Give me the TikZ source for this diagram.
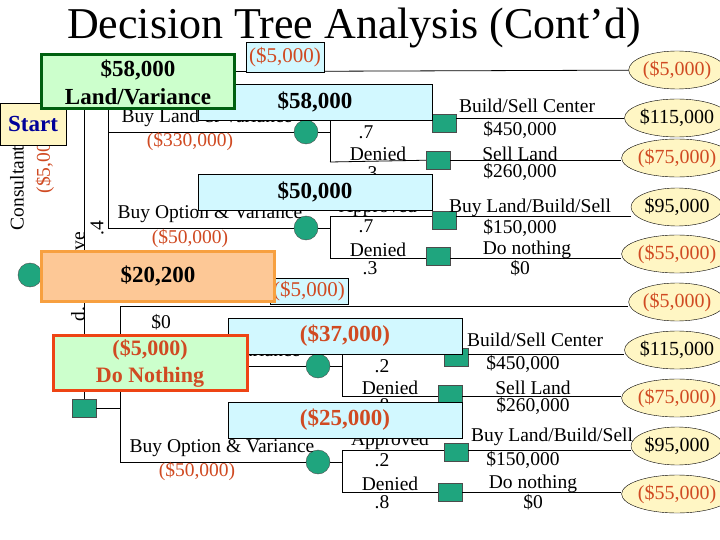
\documentclass[tikz,border=0pt]{standalone}
\usepackage{fontspec}
\setmainfont{Liberation Serif}
\usetikzlibrary{shapes.geometric}
\begin{document}
\begin{tikzpicture}[x=1pt,y=-1pt,
  lbl/.style={inner sep=0pt,font=\fontsize{19.5}{21}\selectfont},
  rlbl/.style={lbl,text=redc},
  dec/.style={draw=black!70,fill=teal1,minimum width=24pt,minimum height=18pt,inner sep=0pt},
  chance/.style={circle,draw=black!70,fill=teal1,minimum size=24pt,inner sep=0pt},
  pay/.style={ellipse,draw,fill=yel,minimum width=82pt,minimum height=38pt,inner sep=0pt,font=\fontsize{20}{22}\selectfont},
  cyanbox/.style={draw,fill=cyanc,inner sep=0pt,font=\fontsize{23}{26}\bfseries\selectfont},
  ln/.style={draw,line width=0.8pt}]
\definecolor{redc}{HTML}{D04A22}
\definecolor{teal1}{HTML}{1FA57E}
\definecolor{yel}{HTML}{FFF6C4}
\definecolor{cyanc}{HTML}{D2F8FF}
\definecolor{grn}{HTML}{CCFFCC}
\definecolor{dgrn}{HTML}{006010}
\definecolor{peach}{HTML}{FDC896}
\definecolor{orng}{HTML}{F7A040}
\definecolor{rbord}{HTML}{EE4414}
\useasboundingbox (0,0) rectangle (720,540);
\fill[white] (0,0) rectangle (720,540);
\node[font=\fontsize{44}{48}\selectfont] (title) at (354,28) {Decision Tree Analysis (Cont'd)};

% root
\node[chance] (root) at (30,275) {};
\node[dec] (dA) at (84,89) {};
\node[dec] (dD) at (84,408) {};
\coordinate (rj) at (84,275);
\draw[ln] (root) -- (rj) -- (dA);
\draw[ln] (rj) -- (dD);
\node[rotate=90,lbl] (cons) at (17,188) {Consultant};
\node[rotate=90,rlbl] (ccost) at (45,160) {(\$5,000)};
\node[rotate=90,lbl,anchor=east] (appr) at (80,232) {d. Approve};
\node[rotate=90,lbl] (p4) at (97,228) {.4};
\node[rotate=90,lbl,anchor=east] (deny) at (80,345) {Deny};

% ---- top tree
\coordinate (tj) at (108,89);
\coordinate (t1) at (108,72);
\coordinate (t2) at (108,132);
\coordinate (t3) at (108,228);
\draw[ln] (dA) -- (tj);
\draw[ln] (t1) -- (t3);
\node[pay,text=redc] (e1) at (677,70) {(\$5,000)};
\draw[ln] (t1) -- (e1);
\node[chance] (c1) at (306,132) {};
\node[chance] (c2) at (306,228) {};
\draw[ln] (t2) -- (c1);
\draw[ln] (t3) -- (c2);
\node[lbl] (bl1) at (207,118) {Buy Land \& Variance};
\node[rlbl] (bl1c) at (190,142) {(\$330,000)};
\node[lbl] (bo1) at (210,214) {Buy Option \& Variance};
\node[rlbl] (bo1c) at (190,239) {(\$50,000)};
% chance 1
\coordinate (c1a) at (330,120);\coordinate (c1b) at (330,162);
\draw[ln] (c1) -- (330,132);
\draw[ln] (c1a) -- (c1b);
\node[dec] (s1) at (444,123) {};
\node[dec] (s2) at (438,160) {};
\draw[ln] (c1a) -- (s1.west|-c1a);
\draw[ln] (c1b) -- (s2);
\node[lbl] (a1) at (378,108) {Approved};
\node[lbl] (p1) at (366,132) {.7};
\node[lbl] (dn1) at (378,154) {Denied};
\node[lbl] (p2) at (370,173) {.3};
\node[pay] (e2) at (677,118) {\$115,000};
\node[pay,text=redc] (e3) at (677,158) {(\$75,000)};
\draw[ln] (s1.east|-e2) -- (e2);
\draw[ln] (s2) -- (e3.west|-s2);
\node[lbl] (bs1) at (527,106) {Build/Sell Center};
\node[lbl] (v1) at (520,130) {\$450,000};
\node[lbl] (sl1) at (520,154) {Sell Land};
\node[lbl] (v2) at (520,172) {\$260,000};
% chance 2
\coordinate (c2a) at (330,216);\coordinate (c2b) at (330,258);
\draw[ln] (c2) -- (330,228);
\draw[ln] (c2a) -- (c2b);
\node[dec] (s3) at (444,220) {};
\node[dec] (s4) at (438,256) {};
\draw[ln] (c2a) -- (s3.west|-c2a);
\draw[ln] (c2b) -- (s4.west|-c2b);
\node[lbl] (a2) at (378,208) {Approved};
\node[lbl] (p3) at (366,226) {.7};
\node[lbl] (dn2) at (378,250) {Denied};
\node[lbl] (p5) at (370,268) {.3};
\node[pay] (e4) at (677,207) {\$95,000};
\node[pay,text=redc] (e5) at (677,254) {(\$55,000)};
\draw[ln] (s3.east|-c2a) -- (e4.west|-c2a);
\draw[ln] (s4.east|-c2b) -- (e5.west|-c2b);
\node[lbl] (bs2) at (530,208) {Buy Land/Build/Sell};
\node[lbl] (v3) at (520,228) {\$150,000};
\node[lbl] (dn3) at (527,250) {Do nothing};
\node[lbl] (v4) at (520,268) {\$0};

% ---- bottom tree
\coordinate (bj) at (120,408);
\coordinate (b1) at (120,306);
\coordinate (b2) at (120,366);
\coordinate (b3) at (120,462);
\draw[ln] (dD) -- (bj);
\draw[ln] (b1) -- (b3);
\node[pay,text=redc] (e6) at (677,302) {(\$5,000)};
\draw[ln] (b1) -- (e6.west|-b1);
\node[lbl] (z1) at (161,322) {\$0};
\node[chance] (c3) at (318,366) {};
\node[chance] (c4) at (318,462) {};
\draw[ln] (b2) -- (c3);
\draw[ln] (b3) -- (c4);
\node[lbl] (bl2) at (215,352) {Buy Land \& Variance};
\node[lbl] (bo2) at (222,448) {Buy Option \& Variance};
\node[rlbl] (bo2c) at (197,472) {(\$50,000)};
% chance 3
\coordinate (c3a) at (342,354);\coordinate (c3b) at (342,396);
\draw[ln] (c3) -- (342,366);
\draw[ln] (c3a) -- (c3b);
\node[dec] (s5) at (456,357) {};
\node[dec] (s6) at (450,394) {};
\draw[ln] (c3a) -- (s5.west|-c3a);
\draw[ln] (c3b) -- (s6.west|-c3b);
\node[lbl] (a3) at (390,342) {Approved};
\node[lbl] (p6) at (382,366) {.2};
\node[lbl] (dn4) at (390,388) {Denied};
\node[lbl] (p7) at (382,405) {.8};
\node[pay] (e7) at (677,350) {\$115,000};
\node[pay,text=redc] (e8) at (677,398) {(\$75,000)};
\draw[ln] (s5.east|-c3a) -- (e7.west|-c3a);
\draw[ln] (s6.east|-c3b) -- (e8.west|-c3b);
\node[lbl] (bs3) at (535,340) {Build/Sell Center};
\node[lbl] (v5) at (523,364) {\$450,000};
\node[lbl] (sl2) at (533,388) {Sell Land};
\node[lbl] (v6) at (533,406) {\$260,000};
% chance 4
\coordinate (c4a) at (342,450);\coordinate (c4b) at (342,492);
\draw[ln] (c4) -- (342,462);
\draw[ln] (c4a) -- (c4b);
\node[dec] (s7) at (456,452) {};
\node[dec] (s8) at (450,492) {};
\draw[ln] (c4a) -- (s7.west|-c4a);
\draw[ln] (c4b) -- (s8.west|-c4b);
\node[lbl] (a4) at (390,441) {Approved};
\node[lbl] (p8) at (382,460) {.2};
\node[lbl] (dn5) at (390,484) {Denied};
\node[lbl] (p9) at (382,502) {.8};
\node[pay] (e9) at (677,446) {\$95,000};
\node[pay,text=redc] (e10) at (677,494) {(\$55,000)};
\draw[ln] (s7.east|-c4a) -- (e9.west|-c4a);
\draw[ln] (s8.east|-c4b) -- (e10.west|-c4b);
\node[lbl] (bs4) at (552,437) {Buy Land/Build/Sell};
\node[lbl] (v7) at (523,460) {\$150,000};
\node[lbl] (dn6) at (533,484) {Do nothing};
\node[lbl] (v8) at (533,502) {\$0};

% ---- overlay boxes
\node[draw,fill=yel,minimum width=66pt,minimum height=42pt,inner sep=0pt,text=blue!60!black,font=\fontsize{23}{26}\bfseries\selectfont] (start) at (33,124) {Start};
\node[cyanbox,minimum width=78pt,minimum height=30pt,text=redc,font=\fontsize{21}{23}\selectfont] (cb1) at (285,57) {(\$5,000)};
\node[cyanbox,minimum width=234pt,minimum height=36pt] (cb2) at (315,102) {\$58,000};
\node[cyanbox,minimum width=234pt,minimum height=36pt] (cb3) at (315,192) {\$50,000};
\node[draw=dgrn,line width=3pt,fill=grn,minimum width=193pt,minimum height=54pt,inner sep=0pt,align=center,font=\fontsize{23}{28}\bfseries\selectfont] (gb) at (138,82) {\$58,000\\Land/Variance};
\node[cyanbox,minimum width=78pt,minimum height=26pt,text=redc,font=\fontsize{21}{23}\selectfont] (cb4) at (309,291) {(\$5,000)};
\node[draw=orng,line width=3pt,fill=peach,minimum width=233pt,minimum height=50pt,inner sep=0pt,font=\fontsize{23}{26}\bfseries\selectfont] (ob) at (158,276) {\$20,200};
\node[cyanbox,minimum width=234pt,minimum height=36pt,text=redc] (cb5) at (345,336) {(\$37,000)};
\node[cyanbox,minimum width=234pt,minimum height=36pt,text=redc] (cb6) at (345,420) {(\$25,000)};
\node[draw=rbord,line width=3pt,fill=grn,minimum width=194pt,minimum height=55pt,inner sep=0pt,align=center,text=redc,font=\fontsize{22}{27}\bfseries\selectfont] (rb) at (150,363) {(\$5,000)\\Do Nothing};
\end{tikzpicture}
\end{document}
